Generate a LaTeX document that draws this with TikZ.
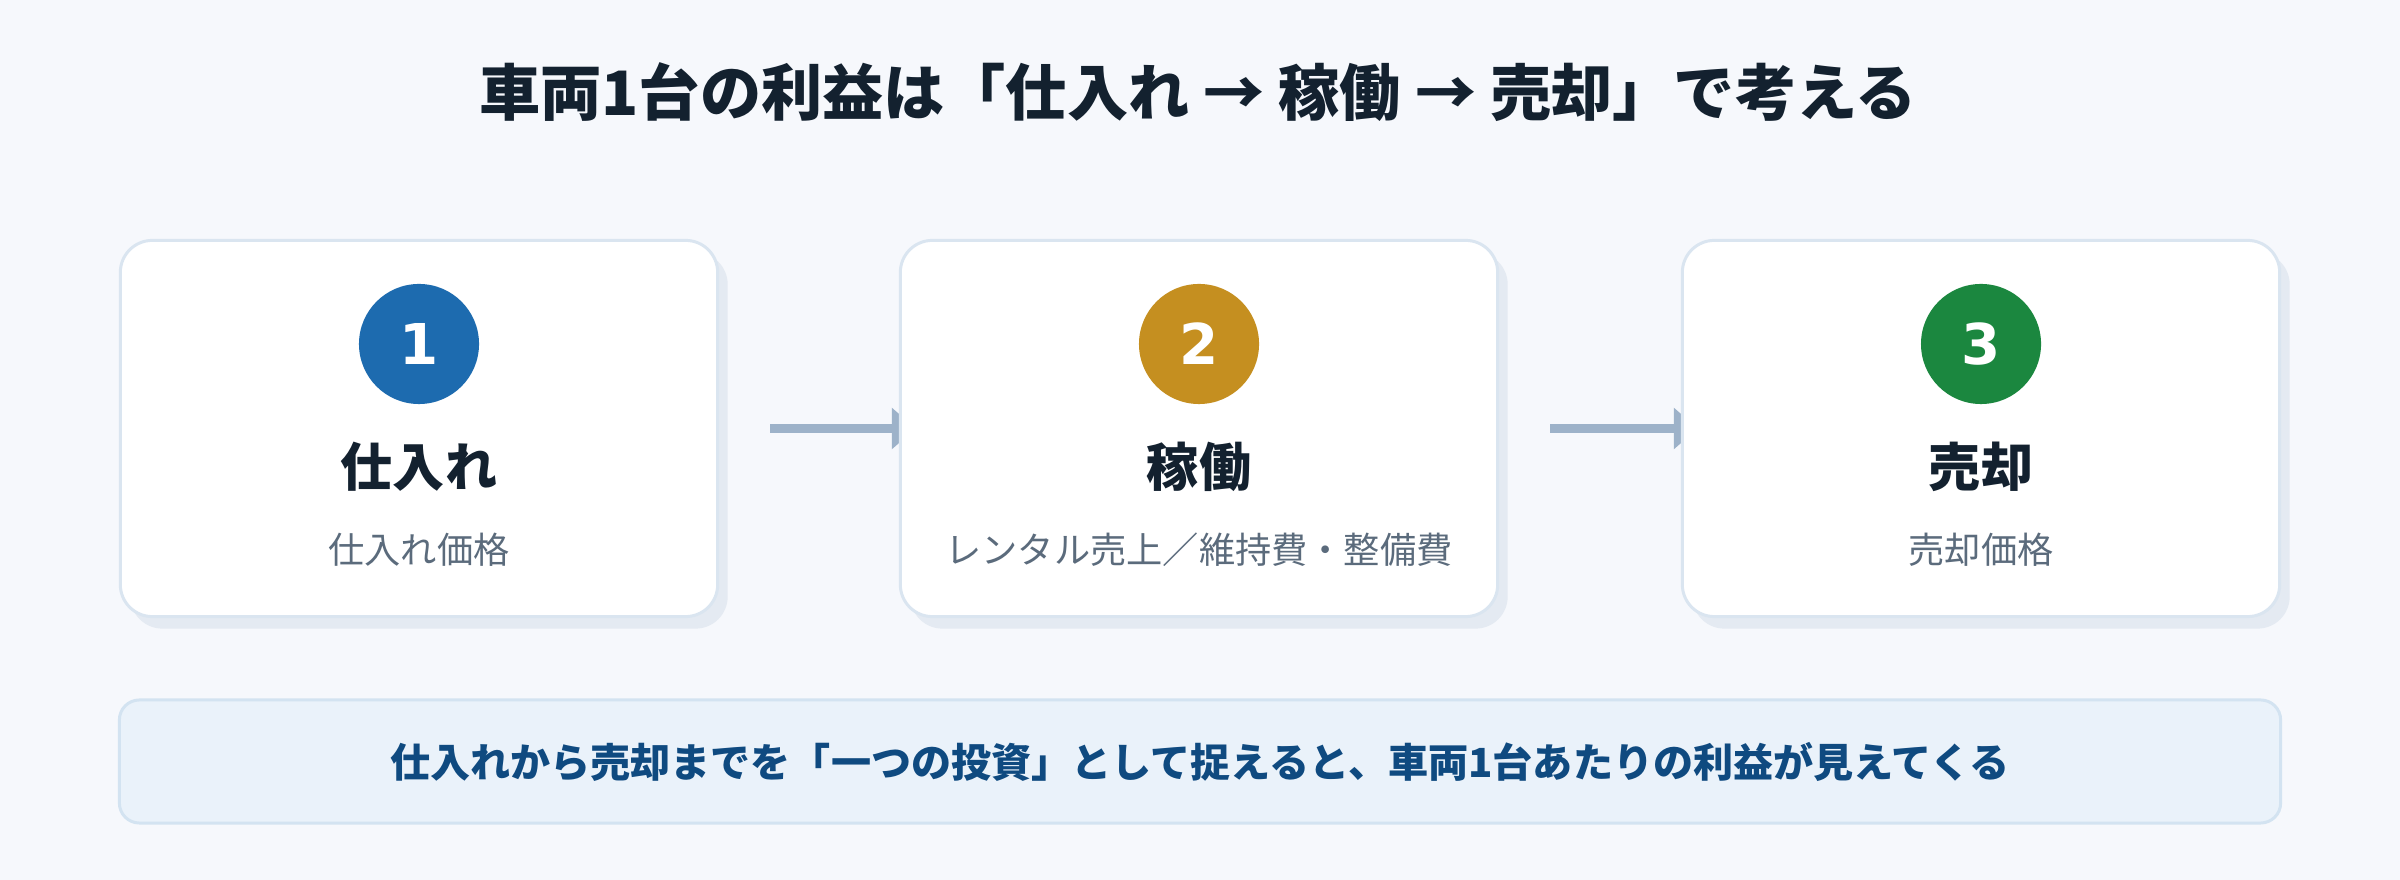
\documentclass[tikz,border=0pt]{standalone}
\usepackage{fontspec}
\setmainfont{Noto Sans CJK JP}
\newfontfamily\digitfont{DejaVu Sans}
\usetikzlibrary{arrows.meta,shadows}

\definecolor{bgcol}{HTML}{F6F8FC}
\definecolor{cardline}{HTML}{DAE5F0}
\definecolor{cardshadow}{HTML}{E4EAF2}
\definecolor{inkcol}{HTML}{13212F}
\definecolor{subcol}{HTML}{5B6B7C}
\definecolor{arrcol}{HTML}{9DB2C9}
\definecolor{notefill}{HTML}{EAF2FA}
\definecolor{noteline}{HTML}{D3E3F1}
\definecolor{notetext}{HTML}{0F4A80}
\definecolor{stepA}{HTML}{1D6BAF}
\definecolor{stepB}{HTML}{C58F20}
\definecolor{stepC}{HTML}{1B873F}

\pgfdeclarelayer{background}
\pgfsetlayers{background,main}

\tikzset{
  card/.style={draw=cardline, line width=0.85pt, fill=white,
    rounded corners=0.32cm, minimum width=5.97cm, minimum height=3.76cm,
    general shadow={fill=cardshadow, shadow xshift=0.1cm, shadow yshift=-0.12cm}},
  badge/.style={circle, minimum size=1.2cm, inner sep=0pt, text=white,
    font=\digitfont\bfseries\fontsize{16}{18}\selectfont},
  cardtitle/.style={text=inkcol, font=\bfseries\fontsize{14.8}{17}\selectfont},
  cardsub/.style={text=subcol, font=\fontsize{10.3}{12}\selectfont},
  flow/.style={draw=arrcol, line width=2.3pt, -{Triangle[width=0.4cm,length=0.24cm]}}
}

\begin{document}
\begin{tikzpicture}[x=0.01cm,y=-0.01cm]
\begin{pgfonlayer}{background}
  \fill[bgcol] (0,0) rectangle (2400,880);
\end{pgfonlayer}

\node[text=inkcol, font=\bfseries\fontsize{17.4}{21}\selectfont] (title) at (1198,92)
  {車両1台の利益は「仕入れ → 稼働 → 売却」で考える};

% three steps
\foreach \i/\x/\col/\head/\desc in {1/419/stepA/仕入れ/仕入れ価格,
    2/1199/stepB/稼働/レンタル売上／維持費・整備費,
    3/1981/stepC/売却/売却価格}
{
  \node[card] (card\i) at (\x,428.5) {};
  \node[badge, fill=\col] (num\i) at (\x,344) {\i};
  \node[cardtitle] (head\i) at (\x,467) {\head};
  \node[cardsub] (desc\i) at (\x,550) {\desc};
}

\begin{pgfonlayer}{background}
  \draw[flow, shorten <=0.51cm, shorten >=-0.17cm] (card1.east) -- (card2.west);
  \draw[flow, shorten <=0.51cm, shorten >=-0.17cm] (card2.east) -- (card3.west);
\end{pgfonlayer}

\node[draw=noteline, line width=0.85pt, fill=notefill, rounded corners=0.2cm,
  minimum width=21.6cm, minimum height=1.23cm, text=notetext,
  font=\bfseries\fontsize{11.4}{14}\selectfont] (note) at (1200,761.5)
  {仕入れから売却までを「一つの投資」として捉えると、車両1台あたりの利益が見えてくる};
\end{tikzpicture}
\end{document}
